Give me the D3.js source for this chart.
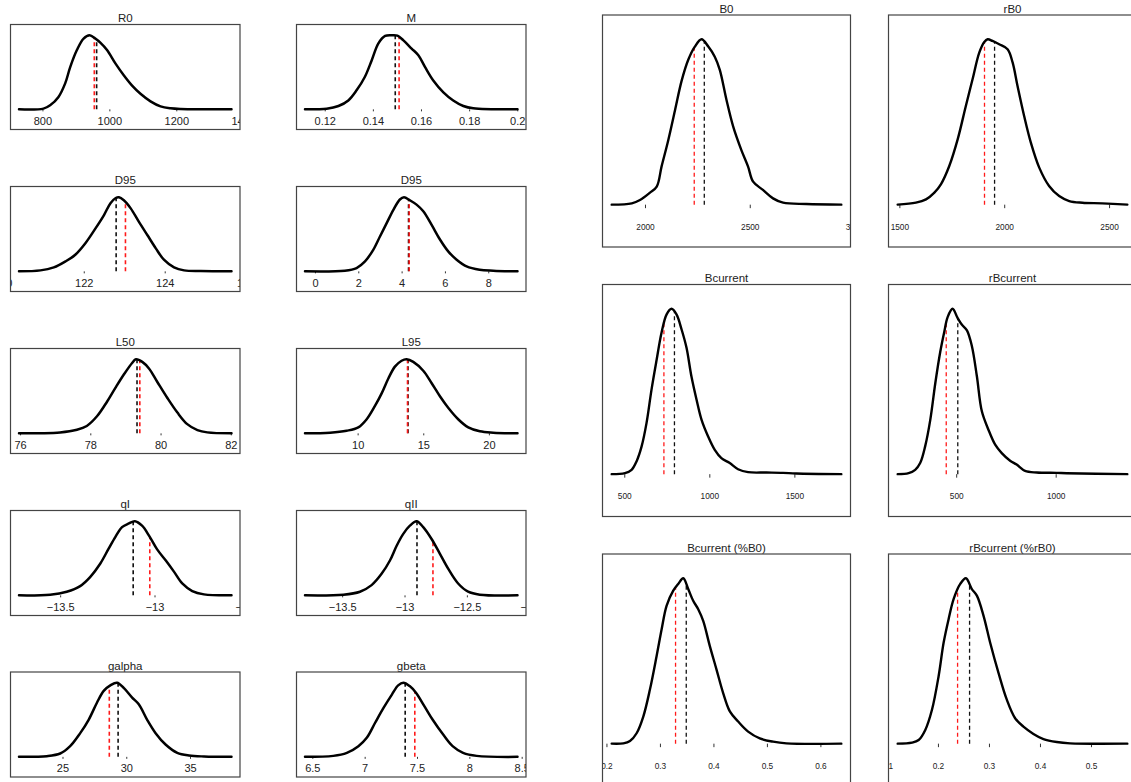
<!DOCTYPE html>
<html><head><meta charset="utf-8">
<script src="https://cdn.jsdelivr.net/npm/d3@7"></script>
<style>
body{margin:0;background:#fff;}
svg{display:block;font-family:"Liberation Sans",Arial,sans-serif;}
</style>
</head><body>
<svg id="c" width="1131" height="782"></svg>
<script>
// ---------------- data (relative posterior density, 1 = peak) ----------------
const r0X = [730, 803, 823, 848, 868, 883, 903, 923, 941, 958, 973, 993, 1018, 1043, 1068, 1093, 1123, 1153, 1183, 1213, 1365];
const r0D = [0, 0.01, 0.054, 0.167, 0.35, 0.57, 0.80, 0.955, 1.0, 0.955, 0.90, 0.80, 0.62, 0.46, 0.32, 0.21, 0.108, 0.04, 0.014, 0.005, 0];
const r0Lines = [962, 955];            // [black, red]
const r0Ticks = [800, 1000, 1200, 1400];

const mX = [0.1118, 0.1208, 0.1257, 0.1298, 0.1333, 0.1367, 0.1395, 0.1423, 0.1451, 0.1478, 0.1502, 0.1527, 0.1561, 0.1589, 0.1617, 0.1651, 0.1693, 0.1734, 0.1776, 0.1817, 0.2001];
const mD = [0, 0.009, 0.045, 0.12, 0.26, 0.44, 0.66, 0.89, 0.99, 1.0, 0.995, 0.93, 0.82, 0.73, 0.57, 0.39, 0.23, 0.12, 0.045, 0.014, 0];
const mLines = [0.1493, 0.1509];
const mTicks = [0.12, 0.14, 0.16, 0.18, 0.2];

const d95aX = [120.40, 120.93, 121.26, 121.55, 121.79, 122.04, 122.29, 122.50, 122.66, 122.79, 122.87, 122.99, 123.16, 123.36, 123.57, 123.78, 123.98, 124.23, 124.48, 124.89, 125.65];
const d95aD = [0, 0.013, 0.054, 0.135, 0.224, 0.38, 0.58, 0.76, 0.92, 0.99, 1.0, 0.96, 0.85, 0.67, 0.49, 0.31, 0.157, 0.054, 0.013, 0.004, 0];
const d95aLines = [122.80, 123.03];
const d95aTicks = [120, 122, 124, 126];

const d95bX = [-0.46, 1.38, 1.92, 2.31, 2.69, 3.0, 3.31, 3.62, 3.92, 4.11, 4.38, 4.69, 5.0, 5.38, 5.77, 6.15, 6.54, 7.0, 7.6, 8.23, 9.35];
const d95bD = [0, 0.009, 0.045, 0.135, 0.29, 0.47, 0.65, 0.83, 0.97, 1.0, 0.96, 0.90, 0.81, 0.63, 0.43, 0.27, 0.157, 0.067, 0.022, 0.009, 0];
const d95bLines = [4.32, 4.35];
const d95bTicks = [0, 2, 4, 6, 8];

const l50X = [75.97, 77.14, 77.62, 77.9, 78.19, 78.48, 78.71, 78.95, 79.19, 79.30, 79.48, 79.67, 79.9, 80.19, 80.48, 80.76, 81.05, 81.33, 82.02];
const l50D = [0, 0.013, 0.049, 0.10, 0.23, 0.43, 0.61, 0.79, 0.95, 1.0, 0.965, 0.876, 0.70, 0.48, 0.28, 0.124, 0.044, 0.013, 0];
const l50Lines = [79.33, 79.41];
const l50Ticks = [76, 78, 80, 82];

const l95X = [5.99, 7.9, 9.16, 10.05, 10.69, 11.32, 11.83, 12.34, 12.84, 13.35, 13.73, 14.24, 15.0, 15.63, 16.27, 16.9, 17.66, 18.43, 19.31, 20.33, 22.18];
const l95D = [0, 0.009, 0.035, 0.08, 0.19, 0.37, 0.54, 0.74, 0.90, 0.98, 1.0, 0.965, 0.845, 0.68, 0.50, 0.345, 0.19, 0.08, 0.027, 0.009, 0];
const l95Lines = [13.84, 13.80];
const l95Ticks = [10, 15, 20];

const qlX = [-13.718, -13.553, -13.465, -13.394, -13.34, -13.287, -13.243, -13.207, -13.172, -13.136, -13.104, -13.066, -13.03, -12.986, -12.94, -12.897, -12.853, -12.80, -12.738, -12.592];
const qlD = [0, 0.009, 0.049, 0.125, 0.25, 0.43, 0.63, 0.79, 0.92, 0.97, 1.0, 0.94, 0.81, 0.62, 0.47, 0.32, 0.16, 0.058, 0.013, 0];
const qlLines = [-13.113, -13.025];
const qlTicks = [-13.5, -13, -12.5];

const q2X = [-13.798, -13.49, -13.357, -13.264, -13.184, -13.117, -13.063, -13.01, -12.957, -12.903, -12.85, -12.783, -12.716, -12.65, -12.57, -12.49, -12.396, -12.094];
const q2D = [0, 0.009, 0.049, 0.138, 0.29, 0.47, 0.67, 0.83, 0.94, 1.0, 0.92, 0.76, 0.56, 0.36, 0.16, 0.049, 0.009, 0];
const q2Lines = [-12.9, -12.772];
const q2Ticks = [-13.5, -13, -12.5, -12];

const gaX = [21.59, 23.77, 24.82, 25.6, 26.39, 27.05, 27.7, 28.23, 28.75, 29.28, 29.8, 30.46, 30.98, 31.64, 32.3, 33.08, 34.0, 34.92, 36.1, 38.25];
const gaD = [0, 0.009, 0.045, 0.144, 0.32, 0.50, 0.73, 0.89, 0.964, 1.0, 0.93, 0.80, 0.71, 0.50, 0.32, 0.167, 0.054, 0.018, 0.005, 0];
const gaLines = [29.36, 28.67];
const gaTicks = [25, 30, 35];

const gbX = [6.43, 6.70, 6.83, 6.94, 7.02, 7.10, 7.18, 7.26, 7.32, 7.37, 7.43, 7.49, 7.57, 7.65, 7.75, 7.84, 7.94, 8.07, 8.46];
const gbD = [0, 0.013, 0.054, 0.144, 0.257, 0.46, 0.66, 0.84, 0.964, 1.0, 0.955, 0.865, 0.685, 0.50, 0.30, 0.144, 0.054, 0.013, 0];
const gbLines = [7.387, 7.479];
const gbTicks = [6.5, 7, 7.5, 8, 8.5];

const b0X = [1841, 1937, 1976, 2024, 2056, 2079, 2111, 2143, 2175, 2206, 2238, 2270, 2302, 2333, 2357, 2389, 2421, 2460, 2492, 2516, 2563, 2611, 2659, 2770, 2937];
const b0D = [0, 0.008, 0.028, 0.073, 0.109, 0.23, 0.39, 0.57, 0.75, 0.875, 0.956, 1.0, 0.956, 0.895, 0.815, 0.633, 0.472, 0.33, 0.23, 0.139, 0.089, 0.038, 0.012, 0.004, 0];
const b0Lines = [2283, 2235];
const b0Ticks = [2000, 2500, 3000];

const rb0X = [1492, 1579, 1627, 1667, 1698, 1738, 1778, 1817, 1849, 1881, 1905, 1921, 1944, 1976, 2016, 2040, 2063, 2095, 2127, 2167, 2214, 2262, 2310, 2373, 2468, 2587];
const rb0D = [0, 0.012, 0.032, 0.073, 0.123, 0.234, 0.395, 0.597, 0.758, 0.919, 0.984, 1.0, 0.99, 0.97, 0.94, 0.86, 0.72, 0.536, 0.375, 0.224, 0.113, 0.052, 0.022, 0.012, 0.008, 0];
const rb0Lines = [1954, 1906];
const rb0Ticks = [1500, 2000, 2500];

const bcX = [426, 504, 543, 572, 602, 631, 660, 690, 719, 749, 778, 807, 837, 866, 895, 925, 954, 993, 1032, 1071, 1120, 1169, 1228, 1336, 1433, 1512, 1776];
const bcD = [0, 0.006, 0.026, 0.077, 0.168, 0.31, 0.51, 0.69, 0.855, 0.966, 1.0, 0.966, 0.875, 0.764, 0.59, 0.45, 0.33, 0.228, 0.147, 0.097, 0.067, 0.03, 0.012, 0.01, 0.008, 0.004, 0];
const bcLines = [795, 733];
const bcTicks = [500, 1000, 1500];

const rbcX = [206, 261, 294, 319, 344, 370, 395, 420, 440, 457, 482, 507, 528, 554, 579, 604, 629, 662, 696, 729, 771, 804, 846, 905, 1005, 1055, 1360];
const rbcD = [0, 0.006, 0.026, 0.067, 0.168, 0.33, 0.55, 0.74, 0.86, 0.95, 1.0, 0.945, 0.905, 0.87, 0.774, 0.592, 0.38, 0.269, 0.178, 0.127, 0.081, 0.058, 0.02, 0.01, 0.008, 0.006, 0];
const rbcLines = [508, 450];
const rbcTicks = [500, 1000];

const bpX = [0.2098, 0.2316, 0.244, 0.2564, 0.2689, 0.2813, 0.2938, 0.3031, 0.3124, 0.3249, 0.3342, 0.3436, 0.3529, 0.3622, 0.3716, 0.3809, 0.3933, 0.4058, 0.4182, 0.4307, 0.4462, 0.4649, 0.4867, 0.5116, 0.5365, 0.6391];
const bpD = [0, 0.002, 0.016, 0.063, 0.164, 0.327, 0.53, 0.69, 0.834, 0.925, 0.966, 1.0, 0.935, 0.864, 0.813, 0.742, 0.59, 0.448, 0.306, 0.195, 0.134, 0.073, 0.032, 0.012, 0.002, 0];
const bpLines = [0.3492, 0.3292];
const bpTicks = [0.2, 0.3, 0.4, 0.5, 0.6];

const rbpX = [0.1211, 0.1491, 0.1622, 0.1752, 0.1883, 0.2013, 0.2111, 0.2209, 0.2307, 0.2437, 0.2548, 0.2665, 0.2763, 0.2894, 0.3024, 0.3187, 0.335, 0.3513, 0.3676, 0.3872, 0.4068, 0.4329, 0.459, 0.5712];
const rbpD = [0, 0.006, 0.022, 0.083, 0.205, 0.408, 0.61, 0.753, 0.874, 0.966, 1.0, 0.935, 0.895, 0.773, 0.61, 0.428, 0.266, 0.154, 0.103, 0.059, 0.028, 0.010, 0.002, 0];
const rbpLines = [0.262, 0.2385];
const rbpTicks = [0.1, 0.2, 0.3, 0.4, 0.5];

// ---------------- layout ----------------
const SMALL = {w: 229.5, h: 105, lo: -0.272, hi: 1.145, titleSize: 11.5, tickSize: 11, tickLen: 2, labelDy: 15.3, lw: 2.5, dashW: 1.6};
const LARGE = {w: 248, h: 232, lo: -0.256, hi: 1.147, titleSize: 11.5, tickSize: 8.3, tickLen: 3.5, labelDy: 25, lw: 2.4, dashW: 1.3};
const smallCols = [10.5, 296.5];
const smallRows = [24.5, 186.5, 348.5, 510.5, 672];
const largeCols = [602.5, 888.5];
const largeRows = [15, 284.5, 554];

const panels = [
  {title: "R0", x: r0X, d: r0D, lines: r0Lines, ticks: r0Ticks, s: SMALL, left: smallCols[0], top: smallRows[0]},
  {title: "M", x: mX, d: mD, lines: mLines, ticks: mTicks, s: SMALL, left: smallCols[1], top: smallRows[0]},
  {title: "D95", x: d95aX, d: d95aD, lines: d95aLines, ticks: d95aTicks, s: SMALL, left: smallCols[0], top: smallRows[1]},
  {title: "D95", x: d95bX, d: d95bD, lines: d95bLines, ticks: d95bTicks, s: SMALL, left: smallCols[1], top: smallRows[1]},
  {title: "L50", x: l50X, d: l50D, lines: l50Lines, ticks: l50Ticks, s: SMALL, left: smallCols[0], top: smallRows[2]},
  {title: "L95", x: l95X, d: l95D, lines: l95Lines, ticks: l95Ticks, s: SMALL, left: smallCols[1], top: smallRows[2]},
  {title: "qI", x: qlX, d: qlD, lines: qlLines, ticks: qlTicks, s: SMALL, left: smallCols[0], top: smallRows[3]},
  {title: "qII", x: q2X, d: q2D, lines: q2Lines, ticks: q2Ticks, s: SMALL, left: smallCols[1], top: smallRows[3]},
  {title: "galpha", x: gaX, d: gaD, lines: gaLines, ticks: gaTicks, s: SMALL, left: smallCols[0], top: smallRows[4]},
  {title: "gbeta", x: gbX, d: gbD, lines: gbLines, ticks: gbTicks, s: SMALL, left: smallCols[1], top: smallRows[4]},
  {title: "B0", x: b0X, d: b0D, lines: b0Lines, ticks: b0Ticks, s: LARGE, left: largeCols[0], top: largeRows[0]},
  {title: "rB0", x: rb0X, d: rb0D, lines: rb0Lines, ticks: rb0Ticks, s: LARGE, left: largeCols[1], top: largeRows[0]},
  {title: "Bcurrent", x: bcX, d: bcD, lines: bcLines, ticks: bcTicks, s: LARGE, left: largeCols[0], top: largeRows[1]},
  {title: "rBcurrent", x: rbcX, d: rbcD, lines: rbcLines, ticks: rbcTicks, s: LARGE, left: largeCols[1], top: largeRows[1]},
  {title: "Bcurrent (%B0)", x: bpX, d: bpD, lines: bpLines, ticks: bpTicks, s: LARGE, left: largeCols[0], top: largeRows[2]},
  {title: "rBcurrent (%rB0)", x: rbpX, d: rbpD, lines: rbpLines, ticks: rbpTicks, s: LARGE, left: largeCols[1], top: largeRows[2]}
];

const svg = d3.select("#c");
const fmt = d3.format("");

function yOnPath(node, px) {
  let lo = 0, hi = node.getTotalLength();
  for (let i = 0; i < 40; i++) {
    const m = (lo + hi) / 2;
    if (node.getPointAtLength(m).x < px) lo = m; else hi = m;
  }
  return node.getPointAtLength((lo + hi) / 2).y;
}

panels.forEach((p, i) => {
  const s = p.s;
  const xmin = d3.min(p.x), xmax = d3.max(p.x), pad = 0.04 * (xmax - xmin);
  const x = d3.scaleLinear().domain([xmin - pad, xmax + pad]).range([0, s.w]);
  const y = d3.scaleLinear().domain([s.lo, s.hi]).range([s.h, 0]);
  const g = svg.append("g").attr("transform", `translate(${p.left},${p.top})`);

  const cid = "clip" + i;
  g.append("clipPath").attr("id", cid).append("rect")
    .attr("x", 0).attr("y", 0).attr("width", s.w).attr("height", s.h);

  // title
  g.append("text").attr("x", s.w / 2).attr("y", -2.5).attr("text-anchor", "middle")
    .attr("font-size", s.titleSize).attr("fill", "#222").text(p.title);

  const inner = g.append("g").attr("clip-path", `url(#${cid})`);

  // axis ticks + labels (labels clipped to the box, as in the original)
  const axis = d3.axisBottom(x).tickValues(p.ticks).tickFormat(fmt)
    .tickSizeInner(s.tickLen).tickSizeOuter(0).tickPadding(s.labelDy - s.tickLen - 0.72 * s.tickSize);
  const ag = inner.append("g").attr("transform", `translate(0,${y(0)})`).call(axis);
  ag.select(".domain").remove();
  ag.selectAll(".tick line").attr("stroke", "#333").attr("stroke-width", 1);
  ag.selectAll(".tick text").attr("font-size", s.tickSize).attr("fill", "#222")
    .attr("font-family", "'Liberation Sans', Arial, sans-serif");

  // density curve
  const pts = p.x.map((v, k) => [v, p.d[k]]);
  const line = d3.line().x(q => x(q[0])).y(q => y(Math.max(0, q[1]))).curve(d3.curveCatmullRom.alpha(0.5));
  const path = inner.append("path").datum(pts).attr("d", line)
    .attr("fill", "none").attr("stroke", "#000").attr("stroke-width", s.lw)
    .attr("stroke-linejoin", "round").attr("stroke-linecap", "round");

  // dashed reference lines: [black, red]
  const colors = ["#111", "#ff1a1a"];
  p.lines.forEach((v, k) => {
    const px = x(v);
    const top = yOnPath(path.node(), px);
    inner.insert("line", "path").attr("x1", px).attr("x2", px)
      .attr("y1", y(0)).attr("y2", top)
      .attr("stroke", colors[k]).attr("stroke-width", s.dashW)
      .attr("stroke-dasharray", "4,3");
  });
  path.raise();

  // box
  g.append("rect").attr("x", 0).attr("y", 0).attr("width", s.w).attr("height", s.h)
    .attr("fill", "none").attr("stroke", "#444").attr("stroke-width", 1.2);
});
</script>
</body></html>
